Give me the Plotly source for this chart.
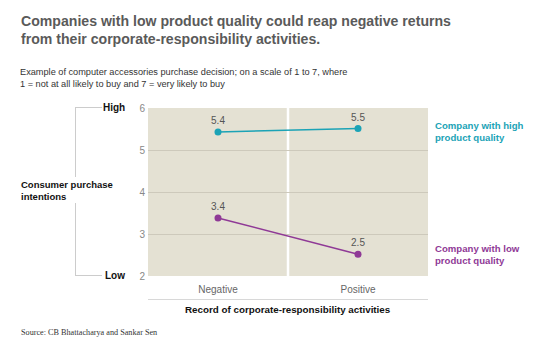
import plotly.graph_objects as go

categories = ["Negative", "Positive"]
high_quality = [5.43, 5.51]
low_quality = [3.38, 2.52]
high_labels = ["5.4", "5.5"]
low_labels = ["3.4", "2.5"]
y_ticks = [2, 3, 4, 5, 6]

TEAL = "#1ba3b6"
PURPLE = "#8f3996"
BG = "#e4e1d3"
FONT = "Liberation Sans, Arial, sans-serif"

OFF = 8  # default page body margin
W, H = 545 - OFF, 358 - OFF
L, R, T, B = 148, 428, 108, 276  # page pixel coords of plot area


def px(x):
    return (x - L) / (R - L)


def py(y):
    return (B - y) / (B - T)


fig = go.Figure()
fig.add_trace(go.Scatter(
    x=categories, y=high_quality, mode="lines+markers+text",
    text=high_labels, textposition="top center",
    textfont=dict(size=10, color="#555555", family=FONT),
    line=dict(color=TEAL, width=1.5), marker=dict(color=TEAL, size=7),
    hoverinfo="skip", cliponaxis=False,
))
fig.add_trace(go.Scatter(
    x=categories, y=low_quality, mode="lines+markers+text",
    text=low_labels, textposition="top center",
    textfont=dict(size=10, color="#555555", family=FONT),
    line=dict(color=PURPLE, width=1.5), marker=dict(color=PURPLE, size=7),
    hoverinfo="skip", cliponaxis=False,
))

shapes = [
    dict(type="line", xref="x", yref="paper", x0=0.5, x1=0.5, y0=0, y1=1,
         line=dict(color="white", width=2.5), layer="below"),
    dict(type="line", xref="paper", yref="paper", x0=0, x1=1,
         y0=py(299.5), y1=py(299.5), line=dict(color="#d8d8d8", width=1)),
    dict(type="line", xref="paper", yref="paper", x0=px(75), x1=px(102),
         y0=py(107.5), y1=py(107.5), line=dict(color="#cccccc", width=1)),
    dict(type="line", xref="paper", yref="paper", x0=px(75), x1=px(102),
         y0=py(275.5), y1=py(275.5), line=dict(color="#cccccc", width=1)),
    dict(type="line", xref="paper", yref="paper", x0=px(75.5), x1=px(75.5),
         y0=py(107.5), y1=py(177), line=dict(color="#cccccc", width=1)),
    dict(type="line", xref="paper", yref="paper", x0=px(75.5), x1=px(75.5),
         y0=py(203), y1=py(275.5), line=dict(color="#cccccc", width=1)),
]

annotations = [
    dict(text="<b>Companies with low product quality could reap negative returns<br>"
              "from their corporate-responsibility activities.</b>",
         x=px(19), y=py(11), xanchor="left", yanchor="top", align="left",
         font=dict(size=14.1, color="#5a5a5a", family=FONT)),
    dict(text="Example of computer accessories purchase decision; on a scale of 1 to 7, where<br>"
              "1 = not at all likely to buy and 7 = very likely to buy",
         x=px(18), y=py(65), xanchor="left", yanchor="top", align="left",
         font=dict(size=9.2, color="#333333", family=FONT)),
    dict(text="<b>High</b>", x=px(127), y=py(107.5), xanchor="right", yanchor="middle",
         font=dict(size=10, color="#111111", family=FONT)),
    dict(text="<b>Low</b>", x=px(127), y=py(275.5), xanchor="right", yanchor="middle",
         font=dict(size=10, color="#111111", family=FONT)),
    dict(text="<b>Consumer purchase<br>intentions</b>", x=px(19), y=py(190),
         xanchor="left", yanchor="middle", align="left",
         font=dict(size=9.5, color="#111111", family=FONT)),
    dict(text="<b>Company with high<br>product quality</b>", x=px(433), y=py(131),
         xanchor="left", yanchor="middle", align="left",
         font=dict(size=9.6, color=TEAL, family=FONT)),
    dict(text="<b>Company with low<br>product quality</b>", x=px(433), y=py(254),
         xanchor="left", yanchor="middle", align="left",
         font=dict(size=9.6, color=PURPLE, family=FONT)),
    dict(text="<b>Record of corporate-responsibility activities</b>", x=0.5, y=py(309),
         xanchor="center", yanchor="middle",
         font=dict(size=9.8, color="#111111", family=FONT)),
    dict(text="Source: CB Bhattacharya and Sankar Sen", x=px(19), y=py(332),
         xanchor="left", yanchor="middle",
         font=dict(size=8.2, color="#333333", family="Liberation Serif, Times New Roman, serif")),
]
for a in annotations:
    a.update(xref="paper", yref="paper", showarrow=False)

fig.update_layout(
    width=W, height=H,
    margin=dict(l=L - OFF, r=W - (R - OFF), t=T - OFF, b=H - (B - OFF), pad=0),
    paper_bgcolor="white", plot_bgcolor=BG,
    showlegend=False,
    shapes=shapes, annotations=annotations,
    font=dict(family=FONT),
    xaxis=dict(type="category", range=[-0.5, 1.5], showgrid=False, zeroline=False,
               showline=False, ticks="", ticklabelstandoff=6,
               tickfont=dict(size=10, color="#666666", family=FONT), fixedrange=True),
    yaxis=dict(range=[2, 6], tickvals=y_ticks, showgrid=True, gridcolor="#cdc9bb",
               gridwidth=1, zeroline=False, showline=False, ticks="",
               ticklabelstandoff=2,
               tickfont=dict(size=10, color="#888888", family=FONT), fixedrange=True),
)

fig.write_html("out.html")
